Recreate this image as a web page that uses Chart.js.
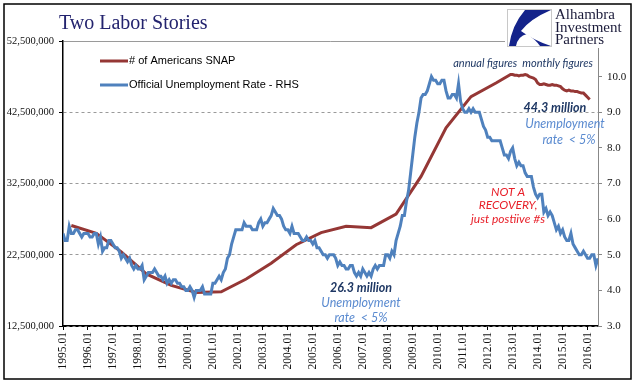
<!DOCTYPE html>
<html>
<head>
<meta charset="utf-8">
<script src="https://cdn.jsdelivr.net/npm/chart.js@4"></script>
<style>
  body { margin: 0; background: #fff; }
  canvas { display: block; }
</style>
</head>
<body>
<canvas id="chart" width="641" height="392"></canvas>
<script>
// x axis: one tick per January
const yearTicks = [1995, 1996, 1997, 1998, 1999, 2000, 2001, 2002, 2003, 2004, 2005,
    2006, 2007, 2008, 2009, 2010, 2011, 2012, 2013, 2014, 2015, 2016];
const leftTicks = [12500000, 22500000, 32500000, 42500000, 52500000];
const rightTicks = [3, 4, 5, 6, 7, 8, 9, 10, 11];

// SNAP participants, millions: annual figures, then monthly from Dec 2012
const snapYears = [1995, 1996, 1997, 1998, 1999, 2000, 2001, 2002, 2003, 2004, 2005,
    2006, 2007, 2008, 2009, 2010, 2011, 2012];
const snapAnnual = [26.6, 25.5, 22.9, 19.8, 18.2, 17.2, 17.3, 19.1, 21.3, 23.9, 25.6,
    26.5, 26.3, 28.2, 33.5, 40.3, 44.7, 46.6];
const snapMonthlyStart = [2012, 12];
const snapMonthly = [
    47.8,
    47.8, 47.7, 47.7, 47.6, 47.7, 47.7, 47.8, 47.7, 47.5, 47.4, 47.3, 47.1,
    46.6, 46.4, 46.4, 46.5, 46.4, 46.3, 46.3, 46.4, 46.3, 46.3, 46.2, 46.1,
    45.8, 45.6, 45.5, 45.6, 45.5, 45.5, 45.4, 45.4, 45.3, 45.2, 45.2, 44.9,
    44.6, 44.3
];

// Official unemployment rate, monthly from Jan 1995
const unemploymentStart = [1995, 1];
const unemployment = [
    5.6, 5.4, 5.4, 5.8, 5.6, 5.6, 5.7, 5.7, 5.6, 5.5, 5.6, 5.6,
    5.6, 5.5, 5.5, 5.6, 5.6, 5.3, 5.5, 5.1, 5.2, 5.2, 5.4, 5.4,
    5.3, 5.2, 5.2, 5.1, 4.9, 5.0, 4.9, 4.8, 4.9, 4.7, 4.6, 4.7,
    4.6, 4.6, 4.7, 4.3, 4.4, 4.5, 4.5, 4.5, 4.6, 4.5, 4.4, 4.4,
    4.3, 4.4, 4.2, 4.3, 4.2, 4.3, 4.3, 4.2, 4.2, 4.1, 4.1, 4.0,
    4.0, 4.1, 4.0, 3.8, 4.0, 4.0, 4.0, 4.1, 3.9, 3.9, 3.9, 3.9,
    4.2, 4.2, 4.3, 4.4, 4.3, 4.5, 4.6, 4.9, 5.0, 5.3, 5.5, 5.7,
    5.7, 5.7, 5.7, 5.9, 5.8, 5.8, 5.8, 5.7, 5.7, 5.7, 5.9, 6.0,
    5.8, 5.9, 5.9, 6.0, 6.1, 6.3, 6.2, 6.1, 6.1, 6.0, 5.8, 5.7,
    5.7, 5.6, 5.8, 5.6, 5.6, 5.6, 5.5, 5.4, 5.4, 5.5, 5.4, 5.4,
    5.3, 5.4, 5.2, 5.2, 5.1, 5.0, 5.0, 4.9, 5.0, 5.0, 5.0, 4.9,
    4.7, 4.8, 4.7, 4.7, 4.6, 4.6, 4.7, 4.7, 4.5, 4.4, 4.5, 4.4,
    4.6, 4.5, 4.4, 4.5, 4.4, 4.6, 4.7, 4.6, 4.7, 4.7, 4.7, 5.0,
    5.0, 4.9, 5.1, 5.0, 5.4, 5.6, 5.8, 6.1, 6.1, 6.5, 6.8, 7.3,
    7.8, 8.3, 8.7, 9.0, 9.4, 9.5, 9.5, 9.6, 9.8, 10.0, 9.9, 9.9,
    9.8, 9.8, 9.9, 9.9, 9.6, 9.4, 9.4, 9.5, 9.5, 9.4, 9.8, 9.3,
    9.1, 9.0, 9.0, 9.1, 9.0, 9.1, 9.0, 9.0, 9.0, 8.8, 8.6, 8.5,
    8.3, 8.3, 8.2, 8.2, 8.2, 8.2, 8.2, 8.0, 7.8, 7.8, 7.7, 7.9,
    8.0, 7.7, 7.5, 7.6, 7.5, 7.5, 7.3, 7.2, 7.2, 7.2, 6.9, 6.7,
    6.6, 6.7, 6.7, 6.2, 6.3, 6.1, 6.2, 6.1, 5.9, 5.7, 5.8, 5.6,
    5.7, 5.5, 5.4, 5.4, 5.6, 5.3, 5.2, 5.1, 5.0, 5.0, 5.1, 5.0,
    4.9, 4.9, 5.0, 5.0, 4.7, 4.9
];

const RED = '#953735';
const BLUE = '#4F81BD';
const NAVY = '#1F3864';
const NOTE_RED = '#E8202A';
const NOTE_BLUE = '#5B8BD0';

const monthX = (start, i) => start[0] + (start[1] - 1 + i) / 12;

const snapPoints = snapYears.map((y, i) => ({ x: y + 4 / 12, y: snapAnnual[i] * 1e6 }))
    .concat(snapMonthly.map((v, i) => ({ x: monthX(snapMonthlyStart, i), y: v * 1e6 })));
const unemploymentPoints = unemployment.map((v, i) => ({ x: monthX(unemploymentStart, i), y: v }));

const notes = [
    ['annual figures  monthly figures', 523, 63, NAVY, 'italic 11px Lato'],
    ['44.3 million', 555, 108, NAVY, 'bold italic 12.5px Lato'],
    ['Unemployment', 565, 124, NOTE_BLUE, 'italic 12.5px Lato'],
    ['rate  < 5%', 569, 140, NOTE_BLUE, 'italic 12.5px Lato'],
    ['NOT A', 508, 192, NOTE_RED, 'italic 12px Lato'],
    ['RECOVERY,', 508, 205, NOTE_RED, 'italic 12px Lato'],
    ['just postiive #s', 508, 219, NOTE_RED, 'italic 12px Lato'],
    ['26.3 million', 361, 288, NAVY, 'bold italic 12.5px Lato'],
    ['Unemployment', 361, 303, NOTE_BLUE, 'italic 12.5px Lato'],
    ['rate  < 5%', 361, 318, NOTE_BLUE, 'italic 12.5px Lato']
];

const decorations = {
    id: 'decorations',
    afterDraw(chart) {
        const ctx = chart.ctx;
        ctx.save();

        // title
        ctx.fillStyle = '#23236e';
        ctx.font = '20px "Liberation Serif"';
        ctx.textAlign = 'left';
        ctx.textBaseline = 'alphabetic';
        ctx.fillText('Two Labor Stories', 59, 29);

        // logo
        ctx.fillStyle = '#fff';
        ctx.fillRect(505, 6, 122, 42);
        ctx.strokeStyle = '#c8c8c8';
        ctx.lineWidth = 1;
        ctx.strokeRect(507.5, 9.5, 44, 37);
        ctx.fillStyle = '#14238a';
        ctx.beginPath();
        ctx.moveTo(525, 10);
        ctx.lineTo(551, 10);
        ctx.quadraticCurveTo(530, 19, 521, 31);
        ctx.quadraticCurveTo(533, 40, 551, 46);
        ctx.lineTo(551, 46);
        ctx.lineTo(509, 46);
        ctx.quadraticCurveTo(512, 25, 525, 10);
        ctx.fill();
        ctx.fillStyle = '#fff';
        ctx.beginPath();
        ctx.moveTo(516, 46);
        ctx.quadraticCurveTo(518, 36, 527, 34);
        ctx.quadraticCurveTo(536, 40, 540, 46);
        ctx.fill();
        ctx.fillStyle = '#1b1b3a';
        ctx.font = '15px "Liberation Serif"';
        ctx.fillText('Alhambra', 555, 19);
        ctx.fillText('Investment', 555, 32);
        ctx.fillText('Partners', 555, 44);

        // legend
        ctx.font = '11px "Liberation Sans"';
        ctx.textBaseline = 'middle';
        [61, 85].forEach((ly, i) => {
            const ds = chart.data.datasets[i];
            ctx.strokeStyle = ds.borderColor;
            ctx.lineWidth = 3;
            ctx.beginPath();
            ctx.moveTo(100, ly);
            ctx.lineTo(128, ly);
            ctx.stroke();
            ctx.fillStyle = '#000';
            ctx.fillText(ds.label, 129, ly);
        });

        // annotations
        ctx.textAlign = 'center';
        notes.forEach(([text, x, y, color, font]) => {
            ctx.fillStyle = color;
            ctx.font = font;
            ctx.fillText(text, x, y);
        });

        // outer frame
        ctx.strokeStyle = '#000';
        ctx.lineWidth = 1.5;
        ctx.strokeRect(4, 4, 627, 375);
        ctx.restore();
    }
};

const tickFont = { family: 'Liberation Serif', size: 11 };

new Chart(document.getElementById('chart'), {
    type: 'line',
    data: {
        datasets: [{
            label: '# of Americans SNAP',
            data: snapPoints,
            yAxisID: 'y',
            borderColor: RED,
            borderWidth: 3,
            pointRadius: 0,
            order: 2
        }, {
            label: 'Official Unemployment Rate - RHS',
            data: unemploymentPoints,
            yAxisID: 'y2',
            borderColor: BLUE,
            borderWidth: 3,
            pointRadius: 0,
            order: 1
        }]
    },
    options: {
        responsive: false,
        animation: false,
        layout: { padding: { top: 41, left: 0, right: 0, bottom: 0 } },
        plugins: {
            legend: { display: false },
            tooltip: { enabled: false }
        },
        scales: {
            x: {
                type: 'linear',
                min: 1995,
                max: monthX(unemploymentStart, unemployment.length - 1),
                afterBuildTicks: (scale) => { scale.ticks = yearTicks.map(v => ({ value: v })); },
                afterFit: (scale) => { scale.height = 66; },
                ticks: {
                    minRotation: 90,
                    maxRotation: 90,
                    autoSkip: false,
                    padding: 2,
                    color: '#111',
                    font: { family: 'Liberation Serif', size: 11.5 },
                    callback: (v) => v + '.01'
                },
                grid: { drawOnChartArea: false, tickLength: 4, color: '#000' },
                border: { color: '#000', width: 1.5 }
            },
            y: {
                position: 'left',
                min: 12500000,
                max: 52500000,
                afterBuildTicks: (scale) => { scale.ticks = leftTicks.map(v => ({ value: v })); },
                afterFit: (scale) => { scale.width = 63; },
                ticks: {
                    padding: 5,
                    color: '#111',
                    font: { family: 'Liberation Serif', size: 10.5 },
                    callback: (v) => v.toLocaleString('en-US')
                },
                grid: {
                    tickLength: 4,
                    color: (c) => c.tick && c.tick.value === 12500000 ? '#000' : '#9a9a9a',
                    tickColor: '#000'
                },
                border: {
                    color: '#000',
                    width: 1.5,
                    dash: (c) => c.tick && c.tick.value < 52500000 ? [3, 3] : []
                }
            },
            y2: {
                position: 'right',
                min: 3,
                max: 11,
                afterBuildTicks: (scale) => { scale.ticks = rightTicks.map(v => ({ value: v })); },
                afterFit: (scale) => { scale.width = 43; },
                ticks: {
                    padding: 5,
                    color: '#111',
                    font: tickFont,
                    callback: (v) => v === 11 ? '' : v.toFixed(1)
                },
                grid: { drawOnChartArea: false, tickLength: 4, color: '#888' },
                border: { color: '#888', width: 1 }
            }
        }
    },
    plugins: [decorations]
});
</script>
</body>
</html>
